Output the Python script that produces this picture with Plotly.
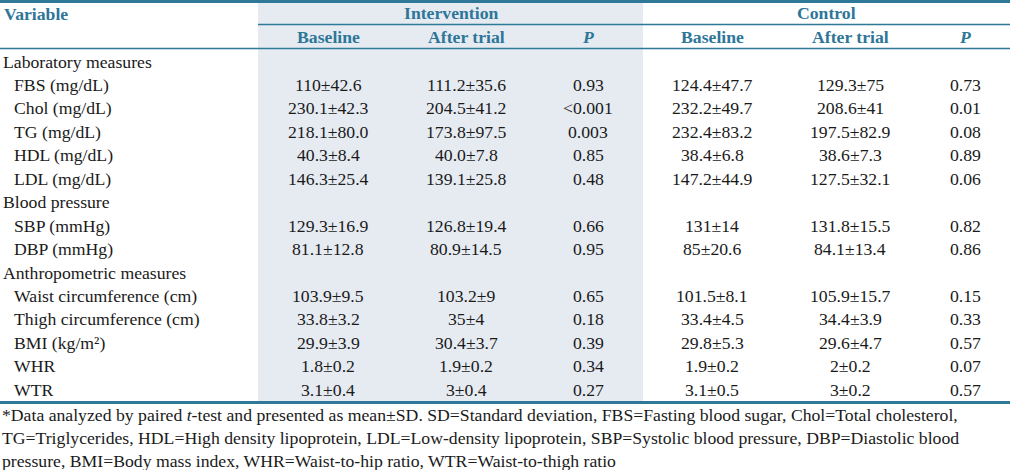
import plotly.graph_objects as go

# ---------------- data ----------------
variables = ["Laboratory measures", "FBS (mg/dL)", "Chol (mg/dL)", "TG (mg/dL)", "HDL (mg/dL)",
             "LDL (mg/dL)", "Blood pressure", "SBP (mmHg)", "DBP (mmHg)", "Anthropometric measures",
             "Waist circumference (cm)", "Thigh circumference (cm)", "BMI (kg/m²)", "WHR", "WTR"]
is_group = [True, False, False, False, False, False, True, False, False, True,
            False, False, False, False, False]
int_baseline = ["", "110±42.6", "230.1±42.3", "218.1±80.0", "40.3±8.4", "146.3±25.4", "",
                "129.3±16.9", "81.1±12.8", "", "103.9±9.5", "33.8±3.2", "29.9±3.9", "1.8±0.2", "3.1±0.4"]
int_after = ["", "111.2±35.6", "204.5±41.2", "173.8±97.5", "40.0±7.8", "139.1±25.8", "",
             "126.8±19.4", "80.9±14.5", "", "103.2±9", "35±4", "30.4±3.7", "1.9±0.2", "3±0.4"]
int_p = ["", "0.93", "<0.001", "0.003", "0.85", "0.48", "", "0.66", "0.95", "",
         "0.65", "0.18", "0.39", "0.34", "0.27"]
ctl_baseline = ["", "124.4±47.7", "232.2±49.7", "232.4±83.2", "38.4±6.8", "147.2±44.9", "",
                "131±14", "85±20.6", "", "101.5±8.1", "33.4±4.5", "29.8±5.3", "1.9±0.2", "3.1±0.5"]
ctl_after = ["", "129.3±75", "208.6±41", "197.5±82.9", "38.6±7.3", "127.5±32.1", "",
             "131.8±15.5", "84.1±13.4", "", "105.9±15.7", "34.4±3.9", "29.6±4.7", "2±0.2", "3±0.2"]
ctl_p = ["", "0.73", "0.01", "0.08", "0.89", "0.06", "", "0.82", "0.86", "",
         "0.15", "0.33", "0.57", "0.07", "0.57"]
group_headers = ["Intervention", "Control"]
sub_headers = ["Baseline", "After trial", "<i>P</i>"]
footnote = [
    "*Data analyzed by paired <i>t</i>-test and presented as mean±SD. SD=Standard deviation, FBS=Fasting blood sugar, Chol=Total cholesterol,",
    "TG=Triglycerides, HDL=High density lipoprotein, LDL=Low-density lipoprotein, SBP=Systolic blood pressure, DBP=Diastolic blood",
    "pressure, BMI=Body mass index, WHR=Waist-to-hip ratio, WTR=Waist-to-thigh ratio",
]

# ---------------- layout constants ----------------
W, H = 1010, 470
FONT = "Liberation Serif, Times New Roman, DejaVu Serif, serif"
FS = 17.7
TEAL = "#2E7698"
LINE = "#2F7898"
SHADE = "#E6EBF2"
col_x = [328, 466, 588, 712, 850, 965]
group_x = [450.5, 826.5]
row_y0, row_dy = 61.5, 23.45
foot_y0, foot_dy = 415, 23

fig = go.Figure()
fig.add_trace(go.Scatter(x=[0, W], y=[0, H], mode="markers", marker=dict(opacity=0), hoverinfo="skip",
                         showlegend=False))

shapes = [
    dict(type="rect", x0=258, x1=643, y0=3, y1=401, fillcolor=SHADE, line=dict(width=0), layer="below"),
    dict(type="line", x0=0, x1=W, y0=1.5, y1=1.5, line=dict(color=LINE, width=3)),
    dict(type="line", x0=258, x1=W, y0=24.5, y1=24.5, line=dict(color=LINE, width=1.3)),
    dict(type="line", x0=0, x1=W, y0=48.5, y1=48.5, line=dict(color=LINE, width=1.3)),
    dict(type="line", x0=0, x1=W, y0=402.5, y1=402.5, line=dict(color=LINE, width=3)),
]

ann = []
hfont = dict(family=FONT, size=FS, color=TEAL)
ann.append(dict(x=2, y=14, text="<b>Variable</b>", xanchor="left", yanchor="middle", showarrow=False, font=hfont))
for gx, g in zip(group_x, group_headers):
    ann.append(dict(x=gx, y=13, text=f"<b>{g}</b>", xanchor="center", yanchor="middle", showarrow=False, font=hfont))
for k, cx in enumerate(col_x):
    ann.append(dict(x=cx, y=36.5, text=f"<b>{sub_headers[k % 3]}</b>", xanchor="center", yanchor="middle",
                    showarrow=False, font=hfont))

bfont = dict(family=FONT, size=FS, color="#1a1a1a")
columns = [int_baseline, int_after, int_p, ctl_baseline, ctl_after, ctl_p]
for i, name in enumerate(variables):
    y = row_y0 + i * row_dy
    ann.append(dict(x=1 if is_group[i] else 12, y=y, text=name, xanchor="left", yanchor="middle",
                    showarrow=False, font=bfont))
    for cx, col in zip(col_x, columns):
        if col[i]:
            ann.append(dict(x=cx, y=y, text=col[i].replace("<", "&lt;"), xanchor="center", yanchor="middle",
                            showarrow=False, font=bfont))

for j, line in enumerate(footnote):
    ann.append(dict(x=0, y=foot_y0 + j * foot_dy, text=line, xanchor="left", yanchor="middle",
                    showarrow=False, font=bfont))

fig.update_layout(
    width=W, height=H, margin=dict(l=0, r=0, t=0, b=0),
    paper_bgcolor="white", plot_bgcolor="white",
    xaxis=dict(range=[0, W], visible=False, fixedrange=True),
    yaxis=dict(range=[H, 0], visible=False, fixedrange=True),
    shapes=shapes, annotations=ann, showlegend=False,
)
fig.write_html("out.html", config={"displayModeBar": False},
               post_script="document.body.style.margin='0';document.body.style.overflow='hidden';")
